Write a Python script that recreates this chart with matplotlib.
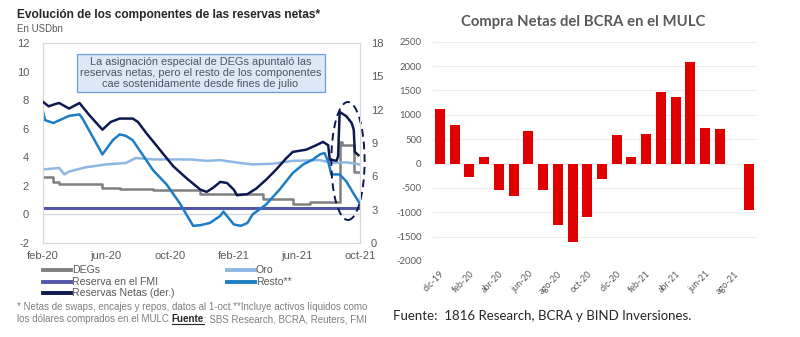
import matplotlib
matplotlib.use("Agg")
import matplotlib.pyplot as plt
from matplotlib.patches import Ellipse
from matplotlib.lines import Line2D
import numpy as np
import pandas as pd

plt.rcParams["axes.unicode_minus"] = False

# ---------------- DATA (left chart) ----------------
netas_dates = ["2020-02-01","2020-02-12","2020-02-24","2020-03-03","2020-03-22","2020-04-11",
               "2020-04-30","2020-05-25","2020-06-10","2020-06-27","2020-07-22","2020-08-01",
               "2020-08-17","2020-09-12","2020-10-08","2020-11-03","2020-11-29","2020-12-11",
               "2020-12-24","2021-01-06","2021-01-19","2021-02-01","2021-02-07","2021-02-27",
               "2021-03-16","2021-04-04","2021-04-23","2021-05-12","2021-05-25","2021-06-20",
               "2021-07-09","2021-07-22","2021-08-01","2021-08-04","2021-08-17","2021-08-20",
               "2021-08-23","2021-09-05","2021-09-15","2021-09-19","2021-09-21","2021-09-28"]
netas_vals = [12.7,12.3,12.5,12.6,12.1,12.6,11.5,10.2,10.9,11.2,11.2,10.9,9.9,8.4,6.9,5.8,4.8,
              4.6,5.0,5.5,5.4,4.8,4.3,4.4,4.9,5.7,6.6,7.6,8.2,8.4,8.8,9.1,8.8,7.5,7.4,7.8,
              11.8,11.4,10.8,10.2,8.2,7.9]

resto_dates = ["2020-02-01","2020-02-05","2020-02-21","2020-03-10","2020-03-22","2020-04-11",
               "2020-04-17","2020-05-25","2020-06-14","2020-06-27","2020-07-09","2020-07-22",
               "2020-08-04","2020-08-30","2020-09-25","2020-10-20","2020-11-15","2020-11-29",
               "2020-12-17","2021-01-06","2021-01-12","2021-02-01","2021-02-14","2021-02-27",
               "2021-03-09","2021-04-04","2021-04-30","2021-05-25","2021-06-14","2021-07-03",
               "2021-07-16","2021-07-25","2021-08-01","2021-08-07","2021-08-23","2021-09-05",
               "2021-09-18","2021-09-30"]
resto_vals = [7.2,6.6,6.4,6.7,6.9,7.0,6.7,4.2,5.2,5.6,5.5,5.2,4.5,3.1,2.1,0.8,-0.8,-0.75,
              -0.6,-0.1,0.2,-0.7,-0.8,-0.6,0.0,0.7,1.75,2.9,3.5,3.85,4.2,4.3,3.7,2.8,2.8,2.3,1.5,0.8]

oro_dates = ["2020-02-01","2020-03-03","2020-03-13","2020-03-22","2020-04-23","2020-06-01",
             "2020-07-09","2020-07-28","2020-08-30","2020-10-08","2020-11-08","2020-12-11",
             "2021-01-06","2021-02-14","2021-03-09","2021-04-17","2021-05-25","2021-07-16",
             "2021-08-10","2021-09-05","2021-09-30"]
oro_vals = [3.15,3.25,2.8,3.0,3.3,3.5,3.6,3.95,3.85,3.85,3.85,3.75,3.8,3.6,3.5,3.55,3.75,3.8,3.6,3.65,3.5]

degs_dates = ["2020-02-01","2020-02-21","2020-03-03","2020-05-25","2020-06-27","2020-08-30",
              "2020-11-29","2021-03-29","2021-05-25","2021-06-27","2021-08-23","2021-08-27",
              "2021-09-19","2021-09-30"]
degs_vals = [2.65,2.3,2.15,1.85,1.8,1.7,1.4,1.05,0.75,0.85,5.1,4.85,3.0,3.0]

fmi_dates = ["2020-02-01","2021-09-30"]
fmi_vals = [0.45,0.45]

left_ticks_dates = ["2020-02-01","2020-06-01","2020-10-01","2021-02-01","2021-06-01","2021-10-01"]
left_tick_labels = ["feb-20","jun-20","oct-20","feb-21","jun-21","oct-21"]

# ---------------- DATA (right chart) ----------------
months = ["dic-19","ene-20","feb-20","mar-20","abr-20","may-20","jun-20","jul-20","ago-20",
          "sep-20","oct-20","nov-20","dic-20","ene-21","feb-21","mar-21","abr-21","may-21",
          "jun-21","jul-21","ago-21","sep-21"]
compras = [1120,790,-270,140,-540,-660,670,-550,-1270,-1610,-1100,-310,590,130,610,1470,
           1370,2090,720,710,0,-950]

# ---------------- FIGURE ----------------
fig = plt.figure(figsize=(8, 3.37), dpi=100)
FL = "Liberation Sans"
GRAY = "#595959"

c_degs = "#7F7F7F"
c_oro = "#8DB8E4"
c_fmi = "#5457A8"
c_resto = "#1C7CC4"
c_netas = "#0E1A4F"

ax = fig.add_axes([43/800, 1-243/337, 317/800, 200/337])
ax2 = ax.twinx()

d = lambda L: pd.to_datetime(L)

ax.axhline(0, color="#D9D9D9", lw=1, zorder=1)
ax.plot(d(degs_dates), degs_vals, color=c_degs, lw=1.8, drawstyle="steps-post", zorder=3)
ax.plot(d(oro_dates), oro_vals, color=c_oro, lw=1.8, zorder=3)
ax.plot(d(fmi_dates), fmi_vals, color=c_fmi, lw=2.2, zorder=3)
ax.plot(d(resto_dates), resto_vals, color=c_resto, lw=1.8, zorder=4)
ax2.plot(d(netas_dates), netas_vals, color=c_netas, lw=1.8, zorder=5)

ax.set_ylim(-2, 12)
ax.set_yticks(range(-2, 13, 2))
ax2.set_ylim(0, 18)
ax2.set_yticks(range(0, 19, 3))
ax.set_xlim(pd.Timestamp("2020-02-01"), pd.Timestamp("2021-10-01"))
ax.set_xticks(d(left_ticks_dates))
ax.set_xticklabels(left_tick_labels)
for a in (ax, ax2):
    for s in a.spines.values():
        s.set_color("#D9D9D9")
        s.set_linewidth(0.8)
    a.tick_params(length=0, labelsize=8, labelcolor=GRAY)
    for lab in a.get_xticklabels() + a.get_yticklabels():
        lab.set_fontfamily(FL)
ax.tick_params(axis="y", pad=10)
ax2.tick_params(axis="y", pad=8)
ax.tick_params(axis="x", pad=6)

# annotation box
ax.text(0.497, 0.85, "La asignación especial de DEGs apuntaló las\nreservas netas, pero el resto de los componentes\ncae sostenidamente desde fines de julio",
        transform=ax.transAxes, ha="center", va="center", fontsize=7.9, color="#4A5568",
        family=FL, linespacing=1.1,
        bbox=dict(boxstyle="square,pad=0.3", fc="#DCE8F7", ec="#6AA0D8", lw=0.9), zorder=6)

# dashed ellipse
ell = Ellipse((0.962, 0.41), 0.105, 0.59, transform=ax.transAxes, fill=False,
              ls=(0, (4, 2.5)), ec=c_netas, lw=1.4, clip_on=False, zorder=7)
ax.add_patch(ell)

# titles
fig.text(17/800, 1-15/337, "Evolución de los componentes de las reservas netas*", fontsize=8.6,
         fontweight="bold", family=FL, color="#262626", va="center", ha="left")
fig.text(17/800, 1-29/337, "En USDbn", fontsize=7, family=FL, color=GRAY, va="center", ha="left")

# legend (manual)
leg = [(43, 270, c_degs, "DEGs"), (43, 282, c_fmi, "Reserva en el FMI"),
       (43, 293, c_netas, "Reservas Netas (der.)"), (227, 270, c_oro, "Oro"),
       (227, 282, c_resto, "Resto**")]
for x0, y0, col, lab in leg:
    fig.add_artist(Line2D([x0/800, (x0+28)/800], [1-y0/337, 1-y0/337], color=col, lw=2.8))
    fig.text((x0+29)/800, 1-y0/337, lab, fontsize=7.6, family=FL, color=GRAY, va="center", ha="left")

# footnote
FS = 7.0
fig.text(17/800, 1-307/337, "* Netas de swaps, encajes y repos, datos al 1-oct.**Incluye activos líquidos como",
         fontsize=FS, family=FL, color="#7F7F7F", va="center", ha="left")
t1 = fig.text(17/800, 1-319/337, "los dólares comprados en el MULC ", fontsize=FS, family=FL,
              color="#7F7F7F", va="center", ha="left")
fig.canvas.draw()
r = fig.canvas.get_renderer()
bb = t1.get_window_extent(r)
t2 = fig.text(bb.x1/800, 1-319/337, "Fuente", fontsize=FS, family=FL, color="#262626",
              fontweight="bold", va="center", ha="left")
bb2 = t2.get_window_extent(r)
fig.add_artist(Line2D([bb2.x0/800, bb2.x1/800], [(bb2.y0-0.3)/337, (bb2.y0-0.3)/337], color="#262626", lw=0.8))
fig.text(bb2.x1/800, 1-319/337, ": SBS Research, BCRA, Reuters, FMI", fontsize=FS, family=FL,
         color="#7F7F7F", va="center", ha="left")

# ---------------- RIGHT CHART ----------------
FR = "Lato"
bx = fig.add_axes([432.6/800, 1-261/337, 324/800, (261-41.7)/337])
x = np.arange(len(months))
bx.bar(x, compras, width=0.68, color="#E00000", zorder=3)
bx.set_xlim(-0.5, len(months)-0.5)
bx.set_ylim(-2000, 2500)
bx.set_yticks(range(-2000, 2501, 500))
bx.grid(axis="y", color="#EDEDED", lw=0.8, zorder=0)
for s in bx.spines.values():
    s.set_visible(False)
bx.tick_params(length=0, labelsize=6.8, labelcolor=GRAY, pad=8)
bx.set_xticks(x[::2])
bx.set_xticklabels(months[::2], rotation=45, ha="right", rotation_mode="anchor")
bx.tick_params(axis="x", pad=6, labelsize=6.5)
for lab in bx.get_xticklabels() + bx.get_yticklabels():
    lab.set_fontfamily(FR)
fig.text(583/800, 1-22/337, "Compra Netas del BCRA en el MULC", fontsize=10.7, fontweight="bold",
         family=FR, color=GRAY, ha="center", va="center")
fig.text(393/800, 1-316/337, "Fuente:  1816 Research, BCRA y BIND Inversiones.", fontsize=9.5,
         family=FR, color="#262626", ha="left", va="center")

fig.savefig("out.png", dpi=100)
